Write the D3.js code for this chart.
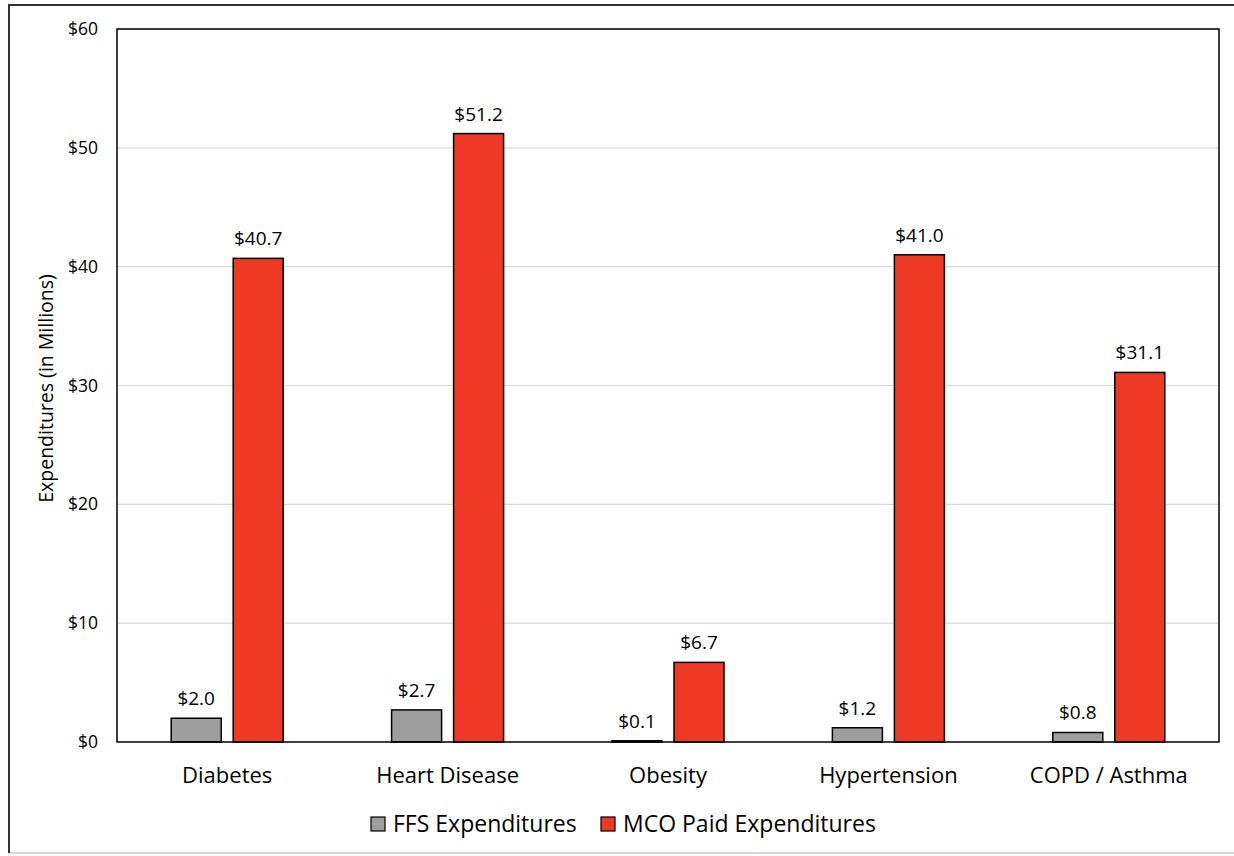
<!DOCTYPE html>
<html>
<head>
<meta charset="utf-8">
<script src="https://cdn.jsdelivr.net/npm/d3@7"></script>
<style>
  html, body { margin: 0; padding: 0; background: #fff; }
  svg { display: block; font-family: "Open Sans", sans-serif; }
</style>
</head>
<body>
<svg id="chart" width="1234" height="856"></svg>
<script>
// Chronic condition expenditures, in millions of dollars
const categories = ["Diabetes", "Heart Disease", "Obesity", "Hypertension", "COPD / Asthma"];
const seriesNames = ["FFS Expenditures", "MCO Paid Expenditures"];
const ffsValues = [2.0, 2.7, 0.1, 1.2, 0.8];
const mcoValues = [40.7, 51.2, 6.7, 41.0, 31.1];
const yTicks = [0, 10, 20, 30, 40, 50, 60];
const seriesColors = ["#9e9e9e", "#ee3a24"];

const series = [ffsValues, mcoValues];
const svg = d3.select("#chart");
const FONT = "'Open Sans', sans-serif";

// Outer frame
svg.append("rect").attr("x", 9).attr("y", 5).attr("width", 1240).attr("height", 848)
  .attr("fill", "none").attr("stroke", "#d9d9d9").attr("stroke-width", 2);
svg.append("line").attr("x1", 8).attr("x2", 1234).attr("y1", 5).attr("y2", 5)
  .attr("stroke", "#333").attr("stroke-width", 2);
svg.append("line").attr("x1", 9).attr("x2", 9).attr("y1", 4).attr("y2", 853)
  .attr("stroke", "#333").attr("stroke-width", 2);

const plot = { left: 117, right: 1219, top: 29, bottom: 742 };

const x = d3.scaleBand().domain(categories).range([plot.left, plot.right]);
const y = d3.scaleLinear().domain([0, 60]).range([plot.bottom, plot.top]);

const barW = 50, barGap = 12;
const offsets = [-(barW + barGap) / 2, (barW + barGap) / 2];

// Gridlines
svg.append("g").selectAll("line").data(yTicks.slice(1)).join("line")
  .attr("x1", plot.left).attr("x2", plot.right)
  .attr("y1", d => y(d)).attr("y2", d => y(d))
  .attr("stroke", "#d9d9d9").attr("stroke-width", 1.2);

// Y axis tick labels
const yAxis = d3.axisLeft(y).tickValues(yTicks).tickFormat(d => "$" + d).tickSize(0).tickPadding(19);
const yG = svg.append("g").attr("transform", `translate(${plot.left},0)`).call(yAxis);
yG.select(".domain").remove();
yG.selectAll("text").attr("font-size", 17.5).attr("fill", "#000").attr("font-family", FONT);

// Y axis title
svg.append("text")
  .attr("transform", `translate(53,${(plot.top + plot.bottom) / 2 + 3}) rotate(-90)`)
  .attr("text-anchor", "middle").attr("font-size", 19.5).attr("fill", "#000")
  .text("Expenditures (in Millions)");

// Bars
series.forEach((vals, si) => {
  const g = svg.append("g");
  g.selectAll("rect").data(vals).join("rect")
    .attr("x", (d, i) => x(categories[i]) + x.bandwidth() / 2 + offsets[si] - barW / 2)
    .attr("y", d => y(d))
    .attr("width", barW)
    .attr("height", d => y(0) - y(d))
    .attr("fill", seriesColors[si])
    .attr("stroke", "#000").attr("stroke-width", 1.5);
  g.selectAll("text").data(vals).join("text")
    .attr("x", (d, i) => x(categories[i]) + x.bandwidth() / 2 + offsets[si])
    .attr("y", d => y(d) - 13)
    .attr("text-anchor", "middle").attr("font-size", 19).attr("fill", "#000")
    .text(d => "$" + d.toFixed(1));
});

// Plot border
svg.append("rect").attr("x", plot.left).attr("y", plot.top)
  .attr("width", plot.right - plot.left).attr("height", plot.bottom - plot.top)
  .attr("fill", "none").attr("stroke", "#000").attr("stroke-width", 1.5);

// X axis category labels
const xAxis = d3.axisBottom(x).tickSize(0).tickPadding(25);
const xG = svg.append("g").attr("transform", `translate(0,${plot.bottom})`).call(xAxis);
xG.select(".domain").remove();
xG.selectAll("text").attr("font-size", 22).attr("fill", "#000").attr("font-family", FONT);

// Legend
const legendX = [371, 601];
const legend = svg.append("g");
seriesNames.forEach((name, i) => {
  legend.append("rect").attr("x", legendX[i]).attr("y", 817).attr("width", 14).attr("height", 14)
    .attr("fill", seriesColors[i]).attr("stroke", "#000").attr("stroke-width", 1.2);
  legend.append("text").attr("x", legendX[i] + 22).attr("y", 832)
    .attr("font-size", 23).attr("fill", "#000").text(name);
});
</script>
</body>
</html>
